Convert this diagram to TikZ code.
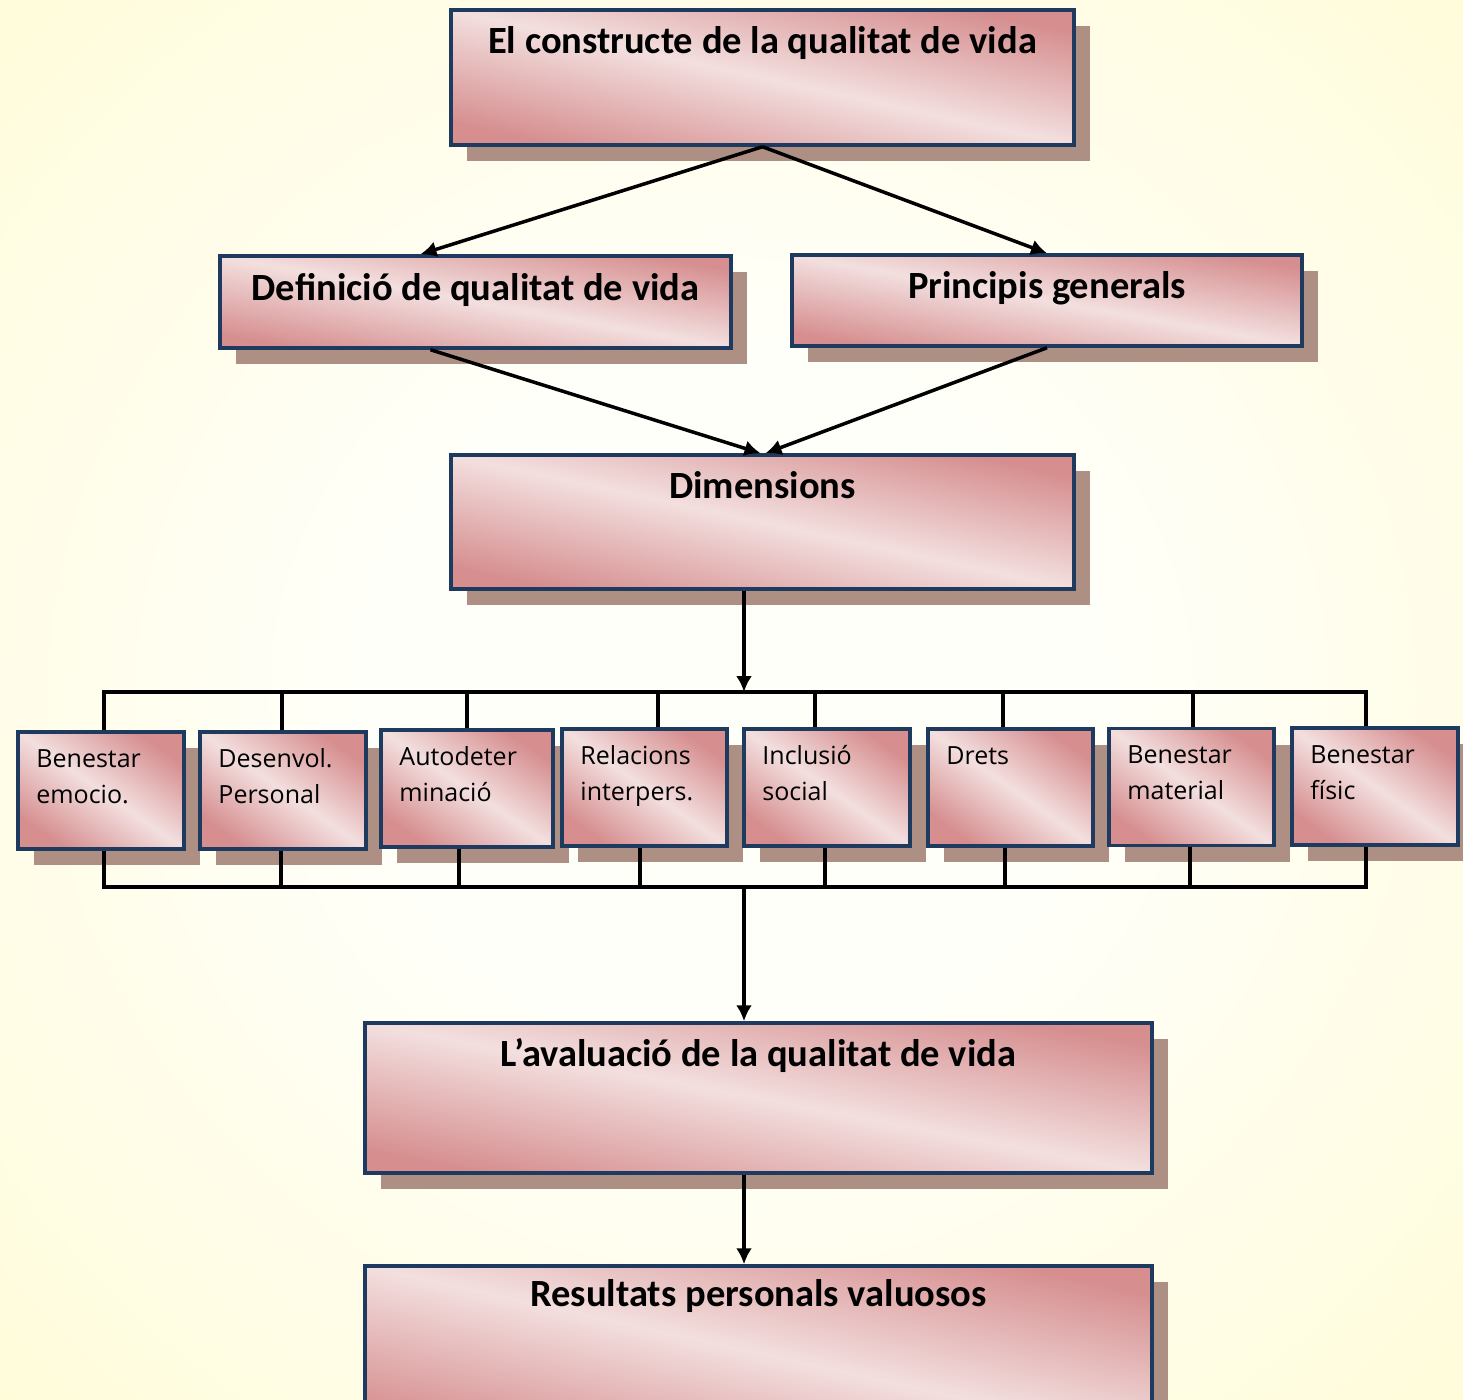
\documentclass[tikz,border=0pt]{standalone}
\usepackage{fontspec}
\setmainfont{Carlito}
\newfontfamily\smallfont{Open Sans}
\usetikzlibrary{arrows.meta,shadows}
\definecolor{pinkdark}{HTML}{D68E8F}
\definecolor{pinklight}{HTML}{F3DFDF}
\definecolor{boxline}{HTML}{1F3A5F}
\definecolor{shadowc}{HTML}{AD8F84}
\definecolor{bginner}{HTML}{FFFFFA}
\definecolor{bgouter}{HTML}{FFFAC6}
\pgfdeclareradialshading{bgglow}{\pgfpoint{0bp}{0bp}}{color(0bp)=(bginner); color(12bp)=(bginner); color(50bp)=(bgouter); color(72bp)=(bgouter)}
\tikzset{
  boxlook/.style={draw=boxline, line width=3.5pt, rectangle, inner sep=0pt,
    top color=pinkdark, bottom color=pinkdark, middle color=pinklight,
    drop shadow={shadow xshift=16pt, shadow yshift=-16pt, opacity=1, fill=shadowc}},
  box/.code 2 args={\pgfmathsetmacro\boxang{-atan(#2/#1)}%
    \tikzset{boxlook, minimum width=#1pt, minimum height=#2pt, shading angle/.expanded=\boxang}},
  bigtxt/.style={font=\bfseries\fontsize{38.5}{46}\selectfont, inner sep=0pt, anchor=base},
  smalltxt/.style={font=\smallfont\fontsize{25}{36}\selectfont, inner sep=0pt, anchor=base west},
  arr/.style={line width=3.5pt, -{Latex[length=16pt,width=16pt]}},
  bus/.style={line width=3.5pt},
}
\begin{document}
\begin{tikzpicture}[x=1pt,y=-1pt]
  % background
  \shade[shading=bgglow] (0,0) rectangle (1463,1399);
  \useasboundingbox (0,0) rectangle (1463,1399);

  % main boxes
  \node[box={623}{135}] (top) at (762.5,77.5) {};
  \node[box={511}{92}] (defin) at (475.5,302) {};
  \node[box={510}{91}] (princ) at (1047,300.5) {};
  \node[box={623}{134}] (dims) at (762.5,522) {};
  \node[box={787}{150}] (aval) at (758.5,1098) {};
  \node[box={787}{174}] (result) at (758.5,1353) {};

  \node[bigtxt] (ttop) at ([yshift=-45pt]top.north) {El constructe de la qualitat de vida};
  \node[bigtxt] (tdefin) at ([yshift=-46pt]defin.north) {Definició de qualitat de vida};
  \node[bigtxt] (tprinc) at ([yshift=-45pt]princ.north) {Principis generals};
  \node[bigtxt] (tdims) at ([yshift=-45pt]dims.north) {Dimensions};
  \node[bigtxt] (taval) at ([yshift=-45pt]aval.north) {L’avaluació de la qualitat de vida};
  \node[bigtxt] (tresult) at ([yshift=-42pt]result.north) {Resultats personals valuosos};

  % dimension boxes
  \foreach \n/\cx/\cy/\w/\txt in {1/101/790.5/166/{Benestar\\emocio.},
      2/283/790.5/166/{Desenvol.\\Personal}, 3/467/788.5/172/{Autodeter\\minació},
      4/644.5/787.5/165/{Relacions\\interpers.}, 5/827/787.5/166/{Inclusió\\social},
      6/1010.5/787.5/165/{Drets}, 7/1191.5/787/165/{Benestar\\material},
      8/1375/786.5/166/{Benestar\\físic}}
  {
    \node[box={\w}{117}] (b\n) at (\cx,\cy) {};
    \node[smalltxt] (t\n) at ([xshift=20pt,yshift=-37pt]b\n.north west)
      {\begin{tabular}[t]{@{}l@{}}\txt\end{tabular}};
  }

  % connectors
  \coordinate (bustop) at (744,692);
  \coordinate (busbot) at (744,887);
  \draw[bus] (104,0 |- b1.north) |- (bustop) -| (1366,0 |- b8.north);
  \draw[bus] (104,0 |- b1.south) |- (busbot) -| (1366,0 |- b8.south);
  \foreach \n/\tx/\bx in {2/282/281, 3/467/459, 4/658/640, 5/815/825, 6/1003/1005, 7/1193/1190}
  {
    \draw[bus] (\tx,0 |- b\n.north) -- (\tx,0 |- bustop);
    \draw[bus] (\bx,0 |- b\n.south) -- (\bx,0 |- busbot);
  }

  \draw[arr] (top.south) -- ([xshift=-55pt]defin.north);
  \draw[arr] (top.south) -- (princ.north);
  \draw[arr] ([xshift=-45pt]defin.south) -- ([xshift=-2pt]dims.north);
  \draw[arr] (princ.south) -- ([xshift=3pt]dims.north);
  \draw[arr] (dims.south -| bustop) -- (bustop);
  \draw[arr] (busbot) -- (aval.north -| busbot);
  \draw[arr] (aval.south -| busbot) -- (result.north -| busbot);
\end{tikzpicture}
\end{document}
